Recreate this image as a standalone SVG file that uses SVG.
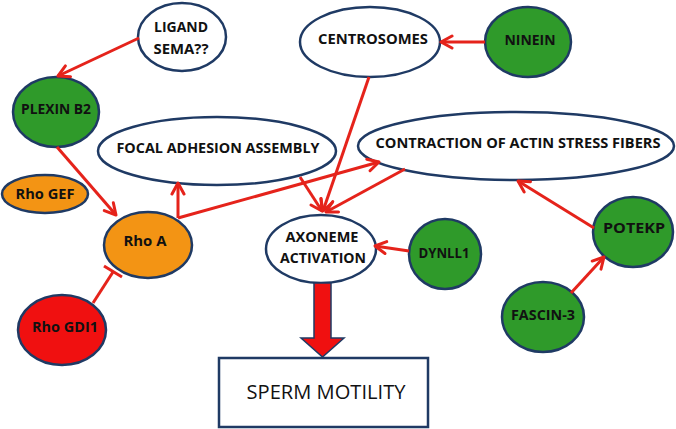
<svg xmlns="http://www.w3.org/2000/svg" width="676" height="429" viewBox="0 0 676 429">
<defs>
<style>
.n{stroke:#1f3a64;stroke-width:2.5}
.w{fill:#ffffff}
.g{fill:#2f9a2a}
.o{fill:#f39414}
.r{fill:#f01010}
.t{font-family:"Open Sans","Liberation Sans",sans-serif;font-weight:700;font-size:14.5px;fill:#111111;text-anchor:middle}
.c{stroke:#e5231b;stroke-width:3;fill:none}
</style>
<marker id="ah" markerUnits="userSpaceOnUse" markerWidth="16" markerHeight="16" viewBox="0 0 16 16" refX="14" refY="8" orient="auto">
<path d="M3,2 L14,8 L3,14" fill="none" stroke="#e5231b" stroke-width="3" stroke-linecap="round" stroke-linejoin="round"/>
</marker>
</defs>
<rect width="676" height="429" fill="#ffffff"/>
<g id="ligand"><ellipse class="n w" cx="182" cy="37" rx="44" ry="34"/><text class="t" x="181" y="32" textLength="54" lengthAdjust="spacingAndGlyphs">LIGAND</text><text class="t" x="181" y="54" textLength="55" lengthAdjust="spacingAndGlyphs">SEMA??</text></g>
<g id="plexin"><ellipse class="n g" cx="56" cy="112" rx="43" ry="35"/><text class="t" x="56" y="114" textLength="70" lengthAdjust="spacingAndGlyphs">PLEXIN B2</text></g>
<g id="rhogef"><ellipse class="n o" cx="45" cy="194" rx="43" ry="19"/><text class="t" x="45" y="199" textLength="59" lengthAdjust="spacingAndGlyphs">Rho GEF</text></g>
<g id="focal"><ellipse class="n w" cx="217" cy="151" rx="119" ry="34"/><text class="t" x="218" y="153" textLength="203" lengthAdjust="spacingAndGlyphs">FOCAL ADHESION ASSEMBLY</text></g>
<g id="centrosomes"><ellipse class="n w" cx="370" cy="42" rx="70" ry="35"/><text class="t" x="373" y="44" textLength="110" lengthAdjust="spacingAndGlyphs">CENTROSOMES</text></g>
<g id="ninein"><ellipse class="n g" cx="528" cy="42" rx="43" ry="35"/><text class="t" x="530" y="45" textLength="51" lengthAdjust="spacingAndGlyphs">NINEIN</text></g>
<g id="contraction"><ellipse class="n w" cx="516" cy="146" rx="158" ry="34"/><text class="t" x="518" y="148" textLength="285" lengthAdjust="spacingAndGlyphs">CONTRACTION OF ACTIN STRESS FIBERS</text></g>
<g id="rhoa"><ellipse class="n o" cx="148" cy="245" rx="44" ry="33"/><text class="t" x="145" y="246" textLength="43" lengthAdjust="spacingAndGlyphs">Rho A</text></g>
<g id="rhogdi1"><ellipse class="n r" cx="62" cy="330" rx="44" ry="35"/><text class="t" x="65" y="332" textLength="66" lengthAdjust="spacingAndGlyphs">Rho GDI1</text></g>
<g id="axoneme"><ellipse class="n w" cx="321" cy="249" rx="55" ry="34"/><text class="t" x="322" y="242" textLength="73" lengthAdjust="spacingAndGlyphs">AXONEME</text><text class="t" x="323" y="263" textLength="86" lengthAdjust="spacingAndGlyphs">ACTIVATION</text></g>
<g id="dynll1"><ellipse class="n g" cx="445" cy="254" rx="36" ry="35"/><text class="t" x="444" y="258" textLength="51" lengthAdjust="spacingAndGlyphs">DYNLL1</text></g>
<g id="potekp"><ellipse class="n g" cx="633" cy="232" rx="40" ry="35"/><text class="t" x="634" y="233" textLength="62" lengthAdjust="spacingAndGlyphs">POTEKP</text></g>
<g id="fascin3"><ellipse class="n g" cx="543" cy="317" rx="41" ry="35"/><text class="t" x="543" y="320" textLength="64" lengthAdjust="spacingAndGlyphs">FASCIN-3</text></g>
<g id="sperm"><rect x="219" y="358" width="209" height="69" fill="#ffffff" stroke="#1f3a64" stroke-width="2.5"/><text x="326" y="399" font-family="Open Sans,Liberation Sans,sans-serif" font-size="20" fill="#111111" text-anchor="middle" textLength="159" lengthAdjust="spacingAndGlyphs">SPERM MOTILITY</text></g>
<g id="connectors">
<line class="c" x1="139" y1="38" x2="58" y2="76" marker-end="url(#ah)"/>
<line class="c" x1="57" y1="147" x2="116" y2="215" marker-end="url(#ah)"/>
<line class="c" x1="178" y1="218" x2="178" y2="183" marker-end="url(#ah)"/>
<line class="c" x1="178" y1="218" x2="379" y2="162" marker-end="url(#ah)"/>
<line class="c" x1="300" y1="177" x2="322" y2="211" marker-end="url(#ah)"/>
<line class="c" x1="369" y1="77" x2="323" y2="211" marker-end="url(#ah)"/>
<line class="c" x1="405" y1="169" x2="326" y2="212" marker-end="url(#ah)"/>
<line class="c" x1="485" y1="42" x2="441" y2="42" marker-end="url(#ah)"/>
<line class="c" x1="409" y1="251" x2="375" y2="246" marker-end="url(#ah)"/>
<line class="c" x1="594" y1="228" x2="518" y2="181" marker-end="url(#ah)"/>
<line class="c" x1="571" y1="293" x2="604" y2="257" marker-end="url(#ah)"/>
<line class="c" x1="93" y1="303" x2="113" y2="272"/>
<line class="c" x1="104" y1="266" x2="122" y2="277"/>
<polygon points="314,283 331,283 331,338 344,338 322.5,357 301,338 314,338" fill="#f01010" stroke="#1f3a64" stroke-width="1.5"/>
</g>
</svg>
